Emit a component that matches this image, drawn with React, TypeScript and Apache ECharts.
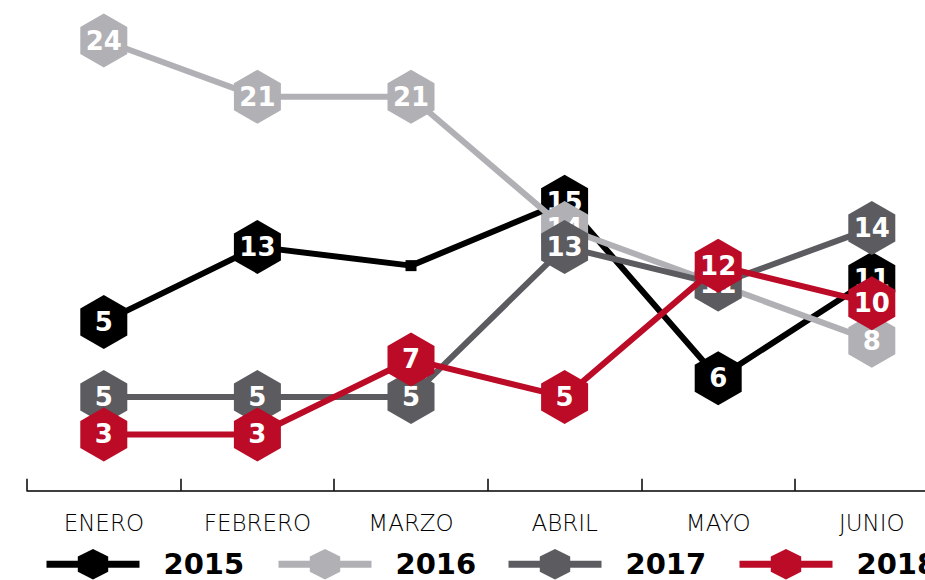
import React, { useEffect, useRef } from "react";
import * as echarts from "echarts";

const categories = ["ENERO", "FEBRERO", "MARZO", "ABRIL", "MAYO", "JUNIO"];
const seriesNames = ["2015", "2016", "2017", "2018"];
// positions
const values2015 = [9, 13, 12, 15.4, 6, 11.3];
const labels2015 = ["5", "13", "", "15", "6", "11"];
const values2016 = [24, 21, 21, 14, 11, 8];
const values2017 = [5, 5, 5, 13, 11, 14];
const values2018 = [3, 3, 7, 5, 12, 10];
const colors = ["#000000", "#b1b0b5", "#5c5b60", "#bb0b27"];

const HEX = "path://M0,-1L0.866,-0.5L0.866,0.5L0,1L-0.866,0.5L-0.866,-0.5Z";
const legendLefts = [43, 275, 505, 736];

export default function App() {
  const ref = useRef<HTMLDivElement>(null);
  useEffect(() => {
    if (!ref.current) return;
    const chart = echarts.init(ref.current, null, { renderer: "svg" });
    const labelStyle = {
      show: true,
      position: "inside",
      color: "#ffffff",
      fontFamily: "DejaVu Sans",
      fontWeight: "bold",
      fontSize: 26,
    };
    const mk = (idx: number, vals: number[], labels?: string[]) => ({
      name: seriesNames[idx],
      type: "line",
      z: 2 + idx,
      data: vals.map((v, i) => {
        const lab = labels ? labels[i] : String(v);
        if (lab === "") {
          return { value: v, symbol: "rect", symbolSize: 11, label: { show: false } };
        }
        return { value: v, label: { formatter: lab } };
      }),
      symbol: HEX,
      symbolSize: [47, 54],
      showAllSymbol: true,
      lineStyle: { color: colors[idx], width: 6 },
      itemStyle: { color: colors[idx] },
      label: labelStyle,
      emphasis: { disabled: true },
    });
    chart.setOption({
      animation: false,
      grid: {
        left: 27,
        top: 3,
        height: 487.75,
        width: 921.6,
        containLabel: false,
        outerBoundsMode: "none",
      },
      xAxis: {
        type: "category",
        data: categories,
        boundaryGap: true,
        axisLine: { show: true, lineStyle: { color: "#000", width: 1.5 } },
        axisTick: { show: true, inside: true, length: 12, lineStyle: { color: "#000", width: 1.5 } },
        axisLabel: {
          color: "#000",
          fontFamily: "DejaVu Sans",
          fontWeight: 200,
          fontSize: 23,
          margin: 21,
        },
      },
      yAxis: { type: "value", min: 0, max: 26, show: false, splitLine: { show: false } },
      legend: seriesNames.map((n, i) => ({
        data: [n],
        left: legendLefts[i],
        top: 549,
        padding: 0,
        itemWidth: 93,
        itemHeight: 38,
        lineStyle: { width: 7 },
        textStyle: {
          fontFamily: "DejaVu Sans",
          fontWeight: "bold",
          fontSize: 29,
          color: "#000",
          padding: [0, 0, 0, 19],
        },
        selectedMode: false,
      })),
      series: [
        mk(0, values2015, labels2015),
        mk(1, values2016),
        mk(2, values2017),
        mk(3, values2018),
      ],
    });
    return () => chart.dispose();
  }, []);
  return (
    <div
      ref={ref}
      style={{ position: "fixed", left: 0, top: 0, width: 925, height: 580, background: "#fff" }}
    />
  );
}
